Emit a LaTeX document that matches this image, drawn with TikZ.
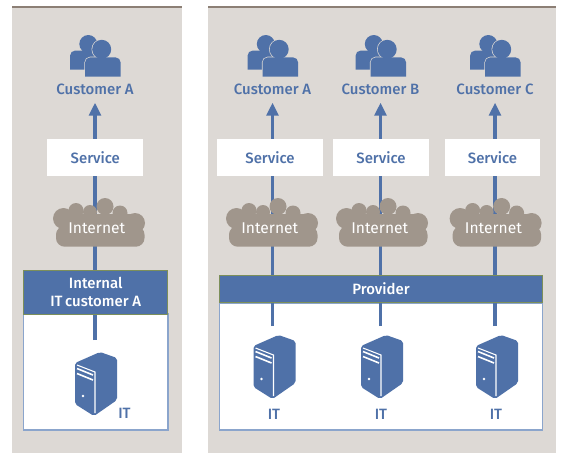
\documentclass[tikz,border=0pt]{standalone}
\usepackage{fontspec}
\setmainfont[BoldFont={Fira Sans Medium}]{Fira Sans}
\usetikzlibrary{arrows.meta}
\definecolor{panelgray}{HTML}{DDD9D5}
\definecolor{bargray}{HTML}{8C7F75}
\definecolor{cloudgray}{HTML}{A0968C}
\definecolor{itblue}{HTML}{4F71A8}
\definecolor{frameblue}{HTML}{8BA5CC}
\definecolor{headgreen}{HTML}{7C8F5A}
\tikzset{
    lbl/.style={text=itblue,font=\bfseries\fontsize{11.2}{13.5}\selectfont,inner sep=0pt},
    whitelbl/.style={lbl,text=white,align=center},
    servicebox/.style={lbl,fill=white,minimum height=27.75pt},
    flow/.style={itblue,line width=2.9pt,shorten >=6pt,-{Triangle[length=9.75pt,width=8.75pt]}},
    panel/.style={fill=panelgray,draw=none},
    itframe/.style={fill=white,draw=frameblue,line width=0.9pt},
    headbar/.style={whitelbl,fill=itblue,draw=headgreen,line width=0.6pt},
    pics/server/.style={code={
        \fill[itblue,rounded corners=1.5pt] (5,-32) -- (22,-26) -- (22,16) -- (-1,32) -- (-20,20) -- (-20,-21) -- cycle;
        \draw[white,line width=0.8pt] (-18,-19) -- (0,-12) -- (0,29);
        \draw[white,line width=1.2pt] (-18,-15.5) -- (-2,-9) (-18,-10.5) -- (-2,-4);
        \fill[white] (-12,12) circle (1.3);
    }},
    pics/people/.style={code={
        \fill[itblue] (-6.7,-16) circle (9);
        \fill[itblue] (-25,9.5) [rounded corners=4pt] -- (-25,-9.5) -- (6,-9.5) [sharp corners] -- (6,9.5) -- cycle;
        \draw[panelgray,line width=1pt] (6.7,-10.7) circle (9.5);
        \draw[panelgray,line width=1pt,rounded corners=4pt] (-10,16.7) -- (-10,-2.7) -- (25.7,-2.7) -- (25.7,16.7) -- cycle;
        \fill[itblue] (6.7,-10.7) circle (9.5);
        \fill[itblue] (-10,16.7) [rounded corners=4pt] -- (-10,-2.7) -- (25.7,-2.7) [sharp corners] -- (25.7,16.7) -- cycle;
    }},
    pics/netcloud/.style={code={
        \fill[cloudgray,rounded corners=6.5pt] (-43,-2) rectangle (45.5,18.7);
        \fill[cloudgray] (-30,-14) rectangle (32,5);
        \foreach \bx/\by/\br in {-35.5/-9.5/10.5,-23/-17.5/7.5,-9/-16/7,6/-21.5/8.5,21/-15/7.5,36/-5/10}
            \fill[cloudgray] (\bx,\by) circle (\br);
    }},
}
\begin{document}
\begin{tikzpicture}[x=0.75pt,y=-0.75pt]
    \useasboundingbox (0,0) rectangle (570,462);
    \fill[panel] (12,8) rectangle (181.5,452.5);
    \fill[panel] (207.5,8) rectangle (556,452.5);
    \fill[bargray] (12,6) rectangle (181.5,8);
    \fill[bargray] (207.5,6) rectangle (556,8);
    \draw[itframe] (23.5,314) rectangle (168,430);
    \draw[itframe] (219.5,303) rectangle (542.5,430);
    \foreach \col/\xarr/\xsrv/\ysrv/\ytail/\txt/\xbox/\wbox/\xcloud in {
        L/95/95/384/340/A/95.3/72/99,
        P/272.5/273.5/367/326/A/270/79.8/272,
        Q/380.5/381/367/326/B/381/71.6/382,
        R/495/496/367/326/C/492.5/71.8/495.6} {
        \pic at (\xarr,60) {people};
        \pic at (\xsrv,\ysrv) {server};
        \node[lbl] (cust\col) at (\xarr,89) {Customer \txt};
        \coordinate (tail\col) at (\xarr,\ytail);
        \draw[flow] (tail\col) -- (cust\col.south);
        \node[servicebox,minimum width=\wbox pt] (serv\col) at (\xbox,157.5) {Service};
        \pic at (\xcloud,228) {netcloud};
        \node[whitelbl,font=\fontsize{11.7}{13}\selectfont] (net\col) at (\xcloud-2.2,228) {Internet};
    }
    \node[headbar,minimum width=108pt,minimum height=33pt] (headL) at (95.75,292) {Internal\\IT\,customer A};
    \node[headbar,minimum width=242.5pt,minimum height=20.5pt] (headP) at (381,289) {Provider};
    \node[lbl] (itL) at (124.5,413.5) {IT};
    \node[lbl] (itP) at (274,414) {IT};
    \node[lbl] (itQ) at (381,414) {IT};
    \node[lbl] (itR) at (496,414) {IT};
\end{tikzpicture}
\end{document}
